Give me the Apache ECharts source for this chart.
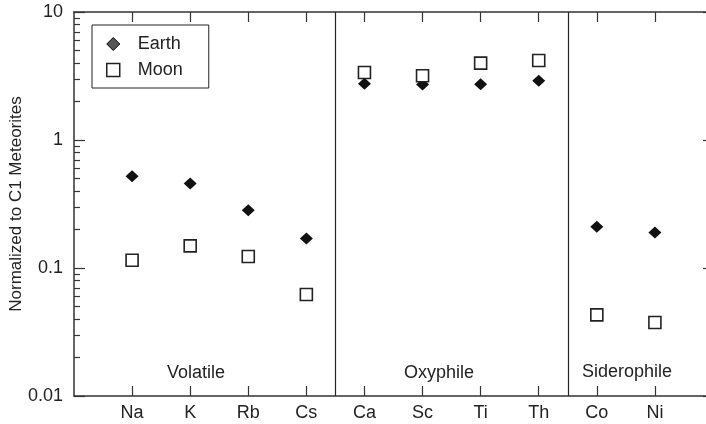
<!DOCTYPE html>
<html>
<head>
<meta charset="utf-8">
<script src="https://cdn.jsdelivr.net/npm/echarts@6/dist/echarts.min.js"></script>
<style>html,body{margin:0;padding:0;background:#fff}#c{width:706px;height:424px}</style>
</head>
<body>
<div id="c"></div>
<script>
const elements = ['Na', 'K', 'Rb', 'Cs', 'Ca', 'Sc', 'Ti', 'Th', 'Co', 'Ni'];
const earth = [0.52, 0.457, 0.283, 0.170, 2.75, 2.71, 2.73, 2.90, 0.21, 0.189];
const moon = [0.115, 0.149, 0.123, 0.062, 3.37, 3.18, 3.99, 4.18, 0.043, 0.0375];
const groupNames = ['Volatile', 'Oxyphile', 'Siderophile'];
const groupBoundaries = [4.5, 8.5];
const yMajorTicks = [0.01, 0.1, 1, 10];

const positions = elements.map((_, i) => i + 1);
const minorTicks = [];
[0.01, 0.1, 1].forEach(d => { for (let k = 2; k <= 9; k++) minorTicks.push(+(d * k).toPrecision(3)); });

const FONT = '"Liberation Sans", Arial, Helvetica, sans-serif';
const TXT = '#222';
const LINE = '#333';

const chart = echarts.init(document.getElementById('c'), null, {renderer: 'canvas'});

const xBase = {
  type: 'value', min: 0, max: 11, interval: 1, gridIndex: 0,
  splitLine: {show: false},
  axisLine: {show: true, lineStyle: {color: LINE, width: 1.5}},
  axisTick: {show: true, inside: true, length: 10, customValues: positions, lineStyle: {color: LINE, width: 1.2}}
};

chart.setOption({
  animation: false,
  backgroundColor: '#fff',
  textStyle: {fontFamily: FONT},
  grid: {left: 74, right: -7, top: 12, bottom: 28, containLabel: false, outerBoundsMode: 'none'},
  legend: {
    orient: 'vertical', left: 92, top: 25,
    borderColor: '#222', borderWidth: 1,
    padding: [9, 26, 8, 14],
    itemGap: 6, itemWidth: 13, itemHeight: 13,
    textStyle: {fontFamily: FONT, fontSize: 18, color: TXT, lineHeight: 20, padding: [0, 0, 0, 13]},
    data: [
      {name: 'Earth', icon: 'diamond', itemStyle: {color: '#555', borderColor: '#000', borderWidth: 1}},
      {name: 'Moon', icon: 'rect', itemStyle: {color: '#fff', borderColor: '#222', borderWidth: 1.5}}
    ]
  },
  xAxis: [
    Object.assign({}, xBase, {
      position: 'bottom',
      axisLabel: {
        show: true, customValues: positions, margin: 8,
        fontFamily: FONT, fontSize: 18, color: TXT,
        formatter: v => elements[Math.round(v) - 1] || ''
      }
    }),
    Object.assign({}, xBase, {position: 'top', axisLabel: {show: false}})
  ],
  yAxis: [
    {
      type: 'log', logBase: 10, min: 0.01, max: 10, position: 'left',
      name: 'Normalized to C1 Meteorites', nameLocation: 'middle', nameGap: 49, nameMoveOverlap: false,
      nameTextStyle: {fontFamily: FONT, fontSize: 17, color: TXT},
      splitLine: {show: false},
      axisLine: {show: true, lineStyle: {color: LINE, width: 1.5}},
      axisTick: {show: true, inside: true, length: 11, customValues: yMajorTicks, lineStyle: {color: LINE, width: 1.2}},
      axisLabel: {show: true, customValues: yMajorTicks, margin: 11, fontFamily: FONT, fontSize: 18, color: TXT,
        formatter: v => String(+v.toPrecision(3))}
    },
    {
      type: 'log', logBase: 10, min: 0.01, max: 10, position: 'left',
      splitLine: {show: false}, axisLine: {show: false}, axisLabel: {show: false},
      axisTick: {show: true, inside: true, length: 6, customValues: minorTicks, lineStyle: {color: LINE, width: 1.2}}
    },
    {
      type: 'log', logBase: 10, min: 0.01, max: 10, position: 'right',
      splitLine: {show: false}, axisLabel: {show: false},
      axisLine: {show: true, lineStyle: {color: LINE, width: 1.5}},
      axisTick: {show: true, inside: true, length: 10, customValues: yMajorTicks, lineStyle: {color: LINE, width: 1.2}}
    }
  ],
  series: [
    {
      name: 'Earth', type: 'scatter', xAxisIndex: 0, yAxisIndex: 0,
      symbol: 'diamond', symbolSize: [13, 12],
      itemStyle: {color: '#111', opacity: 1},
      data: earth.map((v, i) => [positions[i], v]),
      markLine: {
        silent: true, symbol: 'none', label: {show: false},
        lineStyle: {color: '#222', width: 1.2, type: 'solid'},
        emphasis: {disabled: true},
        data: groupBoundaries.map(b => ({xAxis: b}))
      },
      z: 3
    },
    {
      name: 'Moon', type: 'scatter', xAxisIndex: 0, yAxisIndex: 0,
      symbol: 'rect', symbolSize: 12,
      itemStyle: {color: '#fff', borderColor: '#222', borderWidth: 1.6, opacity: 1},
      data: moon.map((v, i) => [positions[i], v]),
      z: 4
    }
  ],
  graphic: [
    {type: 'text', x: 196, y: 373, style: {text: groupNames[0], fontFamily: FONT, fontSize: 18, fill: TXT, align: 'center', verticalAlign: 'middle'}},
    {type: 'text', x: 439, y: 373, style: {text: groupNames[1], fontFamily: FONT, fontSize: 18, fill: TXT, align: 'center', verticalAlign: 'middle'}},
    {type: 'text', x: 627, y: 372, style: {text: groupNames[2], fontFamily: FONT, fontSize: 18, fill: TXT, align: 'center', verticalAlign: 'middle'}}
  ]
});
</script>
</body>
</html>
